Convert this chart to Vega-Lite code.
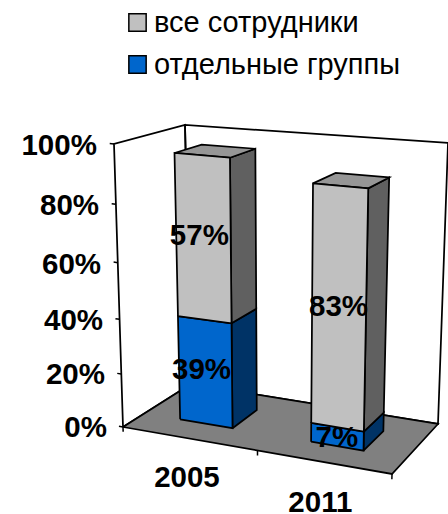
{"$schema":"https://vega.github.io/schema/vega-lite/v6.json","width":448,"height":514,"padding":0,"autosize":"none","background":"white","config":{"view":{"stroke":null},"text":{"font":"Liberation Sans"}},
"datasets":{"bars":[{"year":"2005","series":"отдельные группы","value":39},{"year":"2005","series":"все сотрудники","value":57},{"year":"2011","series":"отдельные группы","value":7},{"year":"2011","series":"все сотрудники","value":83}],"surfaces":[{"surface":"left"},{"surface":"back"}],"floor":[{"surface":"floor"}],"yticks":[{"tick":0},{"tick":20},{"tick":40},{"tick":60},{"tick":80},{"tick":100}],"xticks":[{"tick":0},{"tick":0.5},{"tick":1}]},
"encoding":{"x":{"field":"X","type":"quantitative","scale":{"domain":[-123,325],"nice":false,"zero":false},"axis":null},"y":{"field":"Y","type":"quantitative","scale":{"domain":[-30.74,150.88],"nice":false,"zero":false},"axis":null}},
"layer":[
{"data":{"name":"surfaces"},"transform":[{"calculate":"[0,1,2,3,4]","as":"corner"},{"flatten":["corner"]},{"calculate":"datum.surface=='left'?0:[0,1,1,0,0][datum.corner]","as":"u"},{"calculate":"datum.surface=='left'?[0,0,1,1,0][datum.corner]:1","as":"v"},{"calculate":"datum.surface=='left'?[0,100,100,0,0][datum.corner]:[0,0,100,100,0][datum.corner]","as":"w"},{"calculate":"269*datum.u+68*datum.v-22*datum.u*datum.v+datum.w/100*(-9+16*datum.u+3*datum.v)","as":"X"},{"calculate":"datum.w*(1+0.0777*datum.u-0.0848*datum.v)-16.6*datum.u+15.2*datum.v+2.47*datum.u*datum.v","as":"Y"}],"mark":{"type":"line","stroke":"black","strokeWidth":1.75},"encoding":{"detail":{"field":"surface"},"order":{"field":"corner"}}},
{"data":{"name":"floor"},"transform":[{"calculate":"[0,1,2,3,4]","as":"corner"},{"flatten":["corner"]},{"calculate":"[0,1,1,0,0][datum.corner]","as":"u"},{"calculate":"[0,0,1,1,0][datum.corner]","as":"v"},{"calculate":"0","as":"w"},{"calculate":"269*datum.u+68*datum.v-22*datum.u*datum.v+datum.w/100*(-9+16*datum.u+3*datum.v)","as":"X"},{"calculate":"datum.w*(1+0.0777*datum.u-0.0848*datum.v)-16.6*datum.u+15.2*datum.v+2.47*datum.u*datum.v","as":"Y"}],"mark":{"type":"line","stroke":"black","strokeWidth":1.75,"fill":"#808080"},"encoding":{"order":{"field":"corner"}}},
{"data":{"name":"yticks"},"transform":[{"calculate":"[0,1]","as":"corner"},{"flatten":["corner"]},{"calculate":"[0,-0.015][datum.corner]","as":"u"},{"calculate":"0","as":"v"},{"calculate":"datum.tick*(0.92+0.0008*datum.tick)","as":"w"},{"calculate":"269*datum.u+68*datum.v-22*datum.u*datum.v+datum.w/100*(-9+16*datum.u+3*datum.v)","as":"X"},{"calculate":"datum.w*(1+0.0777*datum.u-0.0848*datum.v)-16.6*datum.u+15.2*datum.v+2.47*datum.u*datum.v","as":"Y"}],"mark":{"type":"line","stroke":"black","strokeWidth":1.5},"encoding":{"detail":{"field":"tick"},"order":{"field":"corner"}}},
{"data":{"name":"yticks"},"transform":[{"calculate":"-0.06","as":"u"},{"calculate":"0","as":"v"},{"calculate":"datum.tick*(0.92+0.0008*datum.tick)","as":"w"},{"calculate":"datum.tick+'%'","as":"label"},{"calculate":"269*datum.u+68*datum.v-22*datum.u*datum.v+datum.w/100*(-9+16*datum.u+3*datum.v)","as":"X"},{"calculate":"datum.w*(1+0.0777*datum.u-0.0848*datum.v)-16.6*datum.u+15.2*datum.v+2.47*datum.u*datum.v","as":"Y"}],"mark":{"type":"text","align":"right","font":"Liberation Sans","fontWeight":"bold","fontSize":29.5,"color":"black","dy":4},"encoding":{"text":{"field":"label"}}},
{"data":{"name":"xticks"},"transform":[{"calculate":"[0,1]","as":"corner"},{"flatten":["corner"]},{"calculate":"datum.tick","as":"u"},{"calculate":"0","as":"v"},{"calculate":"[0,-1.7][datum.corner]","as":"w"},{"calculate":"269*datum.u+68*datum.v-22*datum.u*datum.v+datum.w/100*(-9+16*datum.u+3*datum.v)","as":"X"},{"calculate":"datum.w*(1+0.0777*datum.u-0.0848*datum.v)-16.6*datum.u+15.2*datum.v+2.47*datum.u*datum.v","as":"Y"}],"mark":{"type":"line","stroke":"black","strokeWidth":1.5},"encoding":{"detail":{"field":"tick"},"order":{"field":"corner"}}},
{"data":{"name":"bars"},"transform":[{"stack":"value","groupby":["year"],"sort":[{"field":"series","order":"descending"}],"as":["lo","hi"]},{"calculate":"datum.year=='2005'?0.135:0.635","as":"u0"},{"calculate":"[0,1,2,3,4]","as":"corner"},{"flatten":["corner"]},{"calculate":"datum.u0+0.2","as":"u"},{"calculate":"[0.32,0.72,0.72,0.32,0.32][datum.corner]","as":"v"},{"calculate":"[datum.lo,datum.lo,datum.hi,datum.hi,datum.lo][datum.corner]","as":"w0"},{"calculate":"datum.w0*(0.92+0.0008*datum.w0)","as":"w"},{"calculate":"269*datum.u+68*datum.v-22*datum.u*datum.v+datum.w/100*(-9+16*datum.u+3*datum.v)","as":"X"},{"calculate":"datum.w*(1+0.0777*datum.u-0.0848*datum.v)-16.6*datum.u+15.2*datum.v+2.47*datum.u*datum.v","as":"Y"}],"mark":{"type":"line","stroke":"black","strokeWidth":1.75},"encoding":{"detail":[{"field":"year"},{"field":"series"}],"order":{"field":"corner"},"fill":{"condition":{"test":"datum.series=='все сотрудники'","value":"#606060"},"value":"#003366"}}},
{"data":{"name":"bars"},"transform":[{"stack":"value","groupby":["year"],"sort":[{"field":"series","order":"descending"}],"as":["lo","hi"]},{"filter":"datum.series=='все сотрудники'"},{"calculate":"datum.year=='2005'?0.135:0.635","as":"u0"},{"calculate":"[0,1,2,3,4]","as":"corner"},{"flatten":["corner"]},{"calculate":"datum.u0+[0,0.2,0.2,0,0][datum.corner]","as":"u"},{"calculate":"[0.32,0.32,0.72,0.72,0.32][datum.corner]","as":"v"},{"calculate":"datum.hi*(0.92+0.0008*datum.hi)","as":"w"},{"calculate":"269*datum.u+68*datum.v-22*datum.u*datum.v+datum.w/100*(-9+16*datum.u+3*datum.v)","as":"X"},{"calculate":"datum.w*(1+0.0777*datum.u-0.0848*datum.v)-16.6*datum.u+15.2*datum.v+2.47*datum.u*datum.v","as":"Y"}],"mark":{"type":"line","stroke":"black","strokeWidth":1.75,"fill":"#969696"},"encoding":{"detail":{"field":"year"},"order":{"field":"corner"}}},
{"data":{"name":"bars"},"transform":[{"stack":"value","groupby":["year"],"sort":[{"field":"series","order":"descending"}],"as":["lo","hi"]},{"calculate":"datum.year=='2005'?0.135:0.635","as":"u0"},{"calculate":"[0,1,2,3,4]","as":"corner"},{"flatten":["corner"]},{"calculate":"datum.u0+[0,0.2,0.2,0,0][datum.corner]","as":"u"},{"calculate":"0.32","as":"v"},{"calculate":"[datum.lo,datum.lo,datum.hi,datum.hi,datum.lo][datum.corner]","as":"w0"},{"calculate":"datum.w0*(0.92+0.0008*datum.w0)","as":"w"},{"calculate":"269*datum.u+68*datum.v-22*datum.u*datum.v+datum.w/100*(-9+16*datum.u+3*datum.v)","as":"X"},{"calculate":"datum.w*(1+0.0777*datum.u-0.0848*datum.v)-16.6*datum.u+15.2*datum.v+2.47*datum.u*datum.v","as":"Y"}],"mark":{"type":"line","stroke":"black","strokeWidth":1.75},"encoding":{"detail":[{"field":"year"},{"field":"series"}],"order":{"field":"corner"},"fill":{"field":"series","type":"nominal","scale":{"domain":["все сотрудники","отдельные группы"],"range":["#C0C0C0","#0066CC"]},"legend":{"title":null,"orient":"none","legendX":123,"legendY":8,"symbolType":"square","symbolSize":300,"symbolStrokeColor":"black","symbolStrokeWidth":1.5,"labelFont":"Liberation Sans","labelFontSize":29,"labelColor":"black","labelLimit":400,"rowPadding":12,"labelOffset":2}}}},
{"data":{"name":"bars"},"transform":[{"stack":"value","groupby":["year"],"sort":[{"field":"series","order":"descending"}],"as":["lo","hi"]},{"calculate":"datum.year=='2005'?0.22:0.733","as":"u"},{"calculate":"0.32","as":"v"},{"calculate":"(datum.lo+datum.hi)/2","as":"w"},{"calculate":"datum.value+'%'","as":"label"},{"calculate":"269*datum.u+68*datum.v-22*datum.u*datum.v+datum.w/100*(-9+16*datum.u+3*datum.v)","as":"X"},{"calculate":"datum.w*(1+0.0777*datum.u-0.0848*datum.v)-16.6*datum.u+15.2*datum.v+2.47*datum.u*datum.v","as":"Y"}],"mark":{"type":"text","font":"Liberation Sans","fontWeight":"bold","fontSize":29.5,"color":"black","dy":2},"encoding":{"text":{"field":"label"}}},
{"data":{"name":"bars"},"transform":[{"filter":"datum.series=='все сотрудники'"},{"calculate":"datum.year=='2005'?0.235:0.735","as":"u"},{"calculate":"0","as":"v"},{"calculate":"-14","as":"w"},{"calculate":"269*datum.u+68*datum.v-22*datum.u*datum.v+datum.w/100*(-9+16*datum.u+3*datum.v)","as":"X"},{"calculate":"datum.w*(1+0.0777*datum.u-0.0848*datum.v)-16.6*datum.u+15.2*datum.v+2.47*datum.u*datum.v","as":"Y"}],"mark":{"type":"text","font":"Liberation Sans","fontWeight":"bold","fontSize":29.5,"color":"black"},"encoding":{"text":{"field":"year"}}}
]}
